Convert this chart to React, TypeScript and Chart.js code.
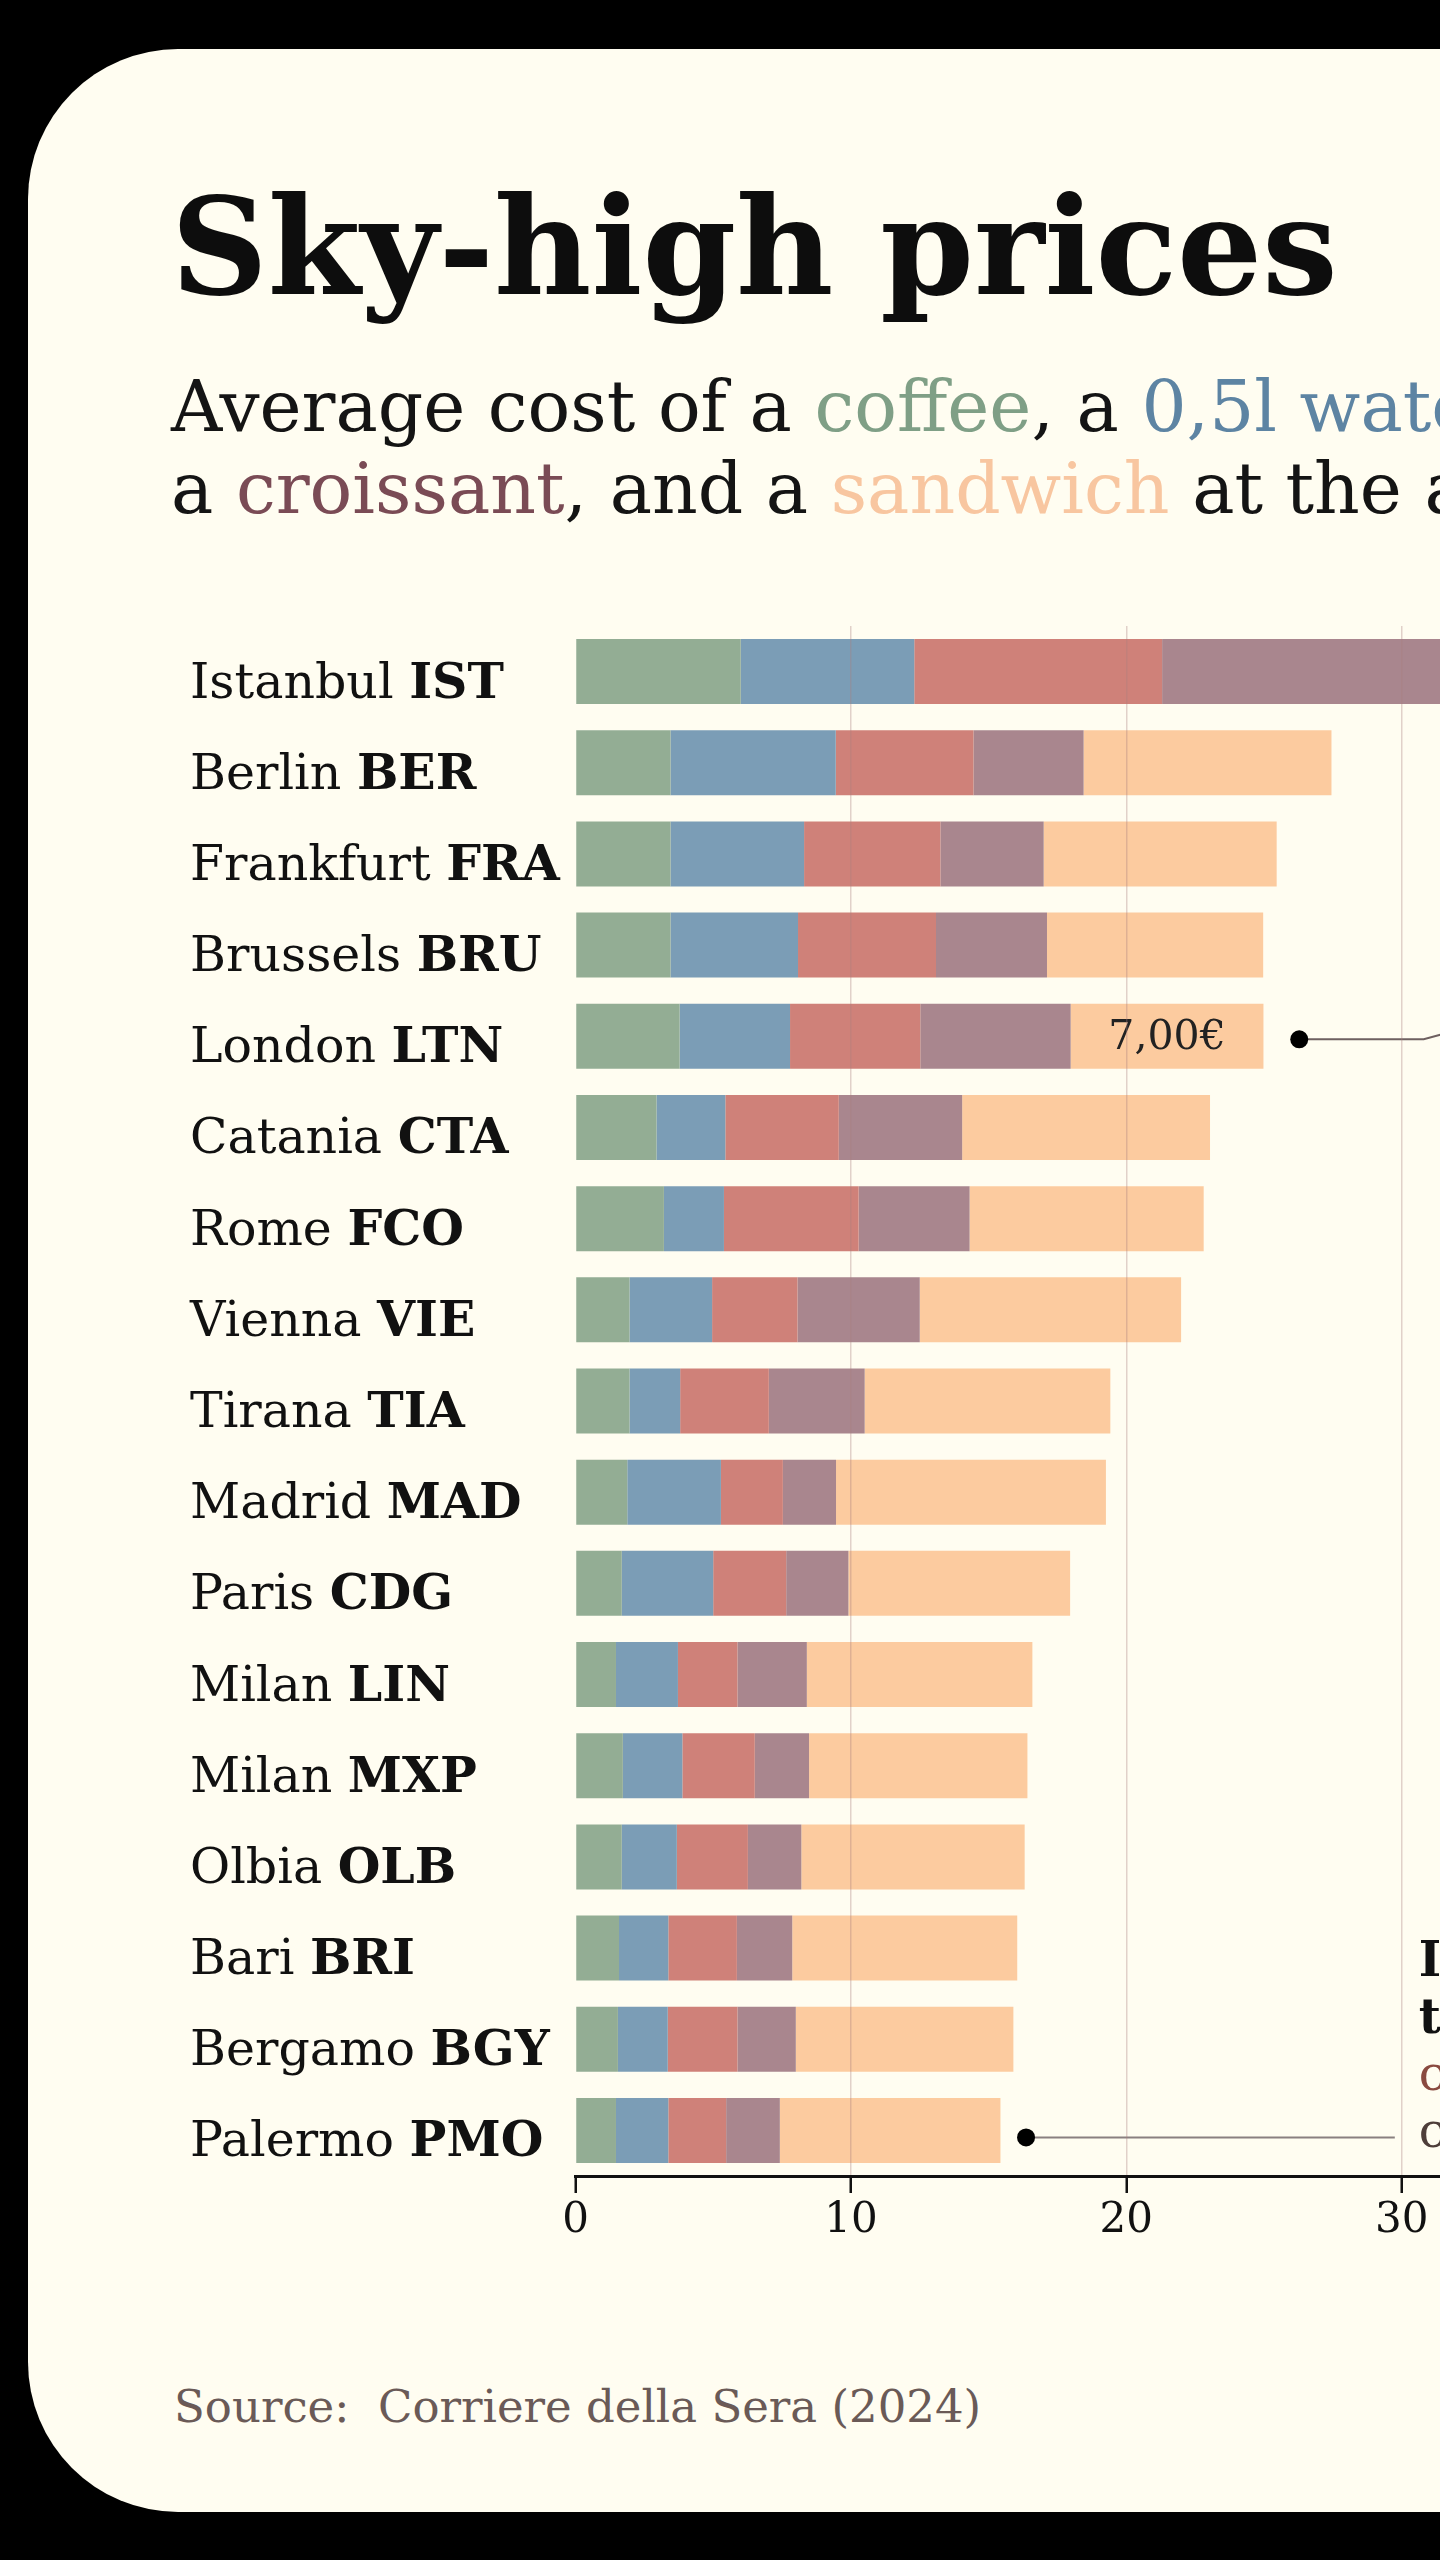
import React, { useEffect, useRef } from "react";
import { Chart, registerables } from "chart.js";

Chart.register(...registerables);

const cities = ["Istanbul", "Berlin", "Frankfurt", "Brussels", "London", "Catania", "Rome", "Vienna", "Tirana", "Madrid", "Paris", "Milan", "Milan", "Olbia", "Bari", "Bergamo", "Palermo"];
const codes = ["IST", "BER", "FRA", "BRU", "LTN", "CTA", "FCO", "VIE", "TIA", "MAD", "CDG", "LIN", "MXP", "OLB", "BRI", "BGY", "PMO"];

const coffee = [6.0, 3.45, 3.45, 3.45, 3.78, 2.94, 3.21, 1.96, 1.96, 1.88, 1.68, 1.47, 1.72, 1.68, 1.58, 1.54, 1.47];
const water = [6.3, 6.0, 4.85, 4.63, 4.01, 2.5, 2.18, 3.0, 1.84, 3.4, 3.32, 2.25, 2.16, 2.0, 1.79, 1.81, 1.9];
const beer = [9.0, 5.0, 4.95, 5.01, 4.73, 4.12, 4.89, 3.1, 3.22, 2.25, 2.65, 2.16, 2.63, 2.58, 2.49, 2.53, 2.1];
const croissant = [12.0, 4.0, 3.75, 4.03, 5.46, 4.48, 4.03, 4.44, 3.48, 1.93, 2.26, 2.52, 1.97, 1.94, 2.01, 2.12, 1.95];
const sandwich = [9.0, 9.0, 8.46, 7.85, 7.0, 9.0, 8.5, 9.49, 8.92, 9.8, 8.05, 8.19, 7.93, 8.11, 8.17, 7.9, 8.01];

const xMin = 0;
const xMax = 50;
const xStep = 10;

const londonLabel = "7,00€";
const noteLines = ["Italy's cheapest:", "the same five items", "cost 15,43€ in Palermo,", "compared to 24,98€ in London"];

const FONT = '"DejaVu Serif", "Liberation Serif", serif';

const colors = {
  coffee: "#93ad94",
  water: "#7b9db6",
  beer: "#cf8179",
  croissant: "#a9868e",
  sandwich: "#fccb9f",
};

function total(i: number) {
  return coffee[i] + water[i] + beer[i] + croissant[i] + sandwich[i];
}

export default function App() {
  const canvasRef = useRef<HTMLCanvasElement>(null);

  useEffect(() => {
    document.body.style.margin = "0";
    document.body.style.overflow = "hidden";
    const canvas = canvasRef.current;
    if (!canvas) return;

    const labelPlugin = {
      id: "rowLabels",
      afterDraw(chart: any) {
        const ctx = chart.ctx;
        const ys = chart.scales.y;
        ctx.save();
        ctx.fillStyle = "#111";
        ctx.textBaseline = "alphabetic";
        ctx.textAlign = "left";
        cities.forEach((c, i) => {
          const cy = ys.getPixelForValue(i) + 26;
          ctx.font = `49px ${FONT}`;
          const t = c + " ";
          ctx.fillText(t, 190, cy);
          const w = ctx.measureText(t).width;
          ctx.font = `bold 49px ${FONT}`;
          ctx.fillText(codes[i], 190 + w, cy);
        });
        ctx.restore();
      },
    };

    const annoPlugin = {
      id: "annotations",
      afterDatasetsDraw(chart: any) {
        const ctx = chart.ctx;
        const xs = chart.scales.x;
        const ys = chart.scales.y;
        ctx.save();
        const li = codes.indexOf("LTN");
        const ly = ys.getPixelForValue(li);
        const lEnd = total(li);
        const lMid = lEnd - sandwich[li] / 2;
        ctx.font = `41px ${FONT}`;
        ctx.fillStyle = "#222";
        ctx.textAlign = "center";
        ctx.textBaseline = "middle";
        ctx.fillText(londonLabel, xs.getPixelForValue(lMid), ly + 2);
        const ldx = xs.getPixelForValue(lEnd + 1.3);
        ctx.strokeStyle = "#6e6060";
        ctx.lineWidth = 2;
        ctx.beginPath();
        ctx.moveTo(ldx, ly + 3);
        ctx.lineTo(xs.getPixelForValue(30.8), ly + 3);
        ctx.lineTo(xs.getPixelForValue(31.6), ly - 3);
        ctx.stroke();
        ctx.fillStyle = "#000";
        ctx.beginPath();
        ctx.arc(ldx, ly + 3, 9, 0, Math.PI * 2);
        ctx.fill();
        const pi = codes.indexOf("PMO");
        const py = ys.getPixelForValue(pi) + 7;
        const pdx = xs.getPixelForValue(total(pi) + 0.93);
        ctx.strokeStyle = "#8a8080";
        ctx.beginPath();
        ctx.moveTo(pdx, py);
        ctx.lineTo(xs.getPixelForValue(29.75), py);
        ctx.stroke();
        ctx.fillStyle = "#000";
        ctx.beginPath();
        ctx.arc(pdx, py, 9, 0, Math.PI * 2);
        ctx.fill();
        const nx = xs.getPixelForValue(30) + 17;
        ctx.textAlign = "left";
        ctx.textBaseline = "alphabetic";
        const noteColors = ["#111", "#111", "#8a4a40", "#4e3e3a"];
        noteLines.forEach((t, k) => {
          ctx.font = `${k < 2 ? "bold " : ""}48px ${FONT}`;
          ctx.fillStyle = noteColors[k];
          ctx.fillText(t, nx, py + 10 - 57 * (3 - k));
        });
        ctx.restore();
      },
    };

    const chart = new Chart(canvas, {
      type: "bar",
      data: {
        labels: codes,
        datasets: [
          { label: "Coffee", data: coffee, backgroundColor: colors.coffee },
          { label: "Water 0,5l", data: water, backgroundColor: colors.water },
          { label: "Beer", data: beer, backgroundColor: colors.beer },
          { label: "Croissant", data: croissant, backgroundColor: colors.croissant },
          { label: "Sandwich", data: sandwich, backgroundColor: colors.sandwich },
        ].map((d) => ({ ...d, borderWidth: 0, barPercentage: 0.713, categoryPercentage: 1 })),
      },
      options: {
        animation: false,
        responsive: false,
        indexAxis: "y",
        layout: { padding: { left: 575.5, right: 47.5, top: 66, bottom: 24 } },
        plugins: { legend: { display: false }, tooltip: { enabled: false } },
        scales: {
          x: {
            stacked: true,
            min: xMin,
            max: xMax,
            afterFit(s: any) {
              s.height = 80;
            },
            ticks: { stepSize: xStep, font: { family: FONT, size: 42 }, color: "#111", padding: 3 },
            grid: {
              color: (c: any) => (c.tick && c.tick.value === 0 ? "rgba(0,0,0,0)" : "rgba(170,125,125,0.35)"),
              lineWidth: 1.5,
              tickLength: 17,
              tickColor: "#111",
              tickWidth: 2.5,
              z: 1,
            },
            border: { display: true, color: "#111", width: 3, z: 1 },
          },
          y: { stacked: true, display: false },
        },
      },
      plugins: [labelPlugin, annoPlugin],
    } as any);
    return () => chart.destroy();
  }, []);

  const abs: React.CSSProperties = { position: "absolute", whiteSpace: "pre" };

  return (
    <div style={{ position: "absolute", left: 0, top: 0, width: 1440, height: 2560, overflow: "hidden", background: "#000" }}>
      <div style={{ position: "absolute", left: 28, top: 49, width: 1700, height: 2463, background: "#fffdf1", borderRadius: 150 }} />
      <div style={{ ...abs, left: 171, top: 180, font: `bold 134px ${FONT}`, lineHeight: "134px", color: "#0d0d0d" }}>
        Sky-high prices
      </div>
      <div style={{ ...abs, left: 171, top: 371, font: `71px ${FONT}`, lineHeight: "71px", color: "#141414" }}>
        Average cost of a <span style={{ color: "#7f9f86" }}>coffee</span>, a <span style={{ color: "#5d84a3" }}>0,5l water</span>, a <span style={{ color: "#cf8179" }}>beer</span>,
      </div>
      <div style={{ ...abs, left: 171, top: 453, font: `71px ${FONT}`, lineHeight: "71px", color: "#141414" }}>
        a <span style={{ color: "#7a4b55" }}>croissant</span>, and a <span style={{ color: "#f8c6a0" }}>sandwich</span> at the airport
      </div>
      <canvas ref={canvasRef} width={2000} height={1720} style={{ position: "absolute", left: 0, top: 560, width: 2000, height: 1720 }} />
      <div style={{ ...abs, left: 174, top: 2384, font: `45px ${FONT}`, lineHeight: "45px", color: "#6a5a57" }}>
        Source:  Corriere della Sera (2024)
      </div>
    </div>
  );
}
